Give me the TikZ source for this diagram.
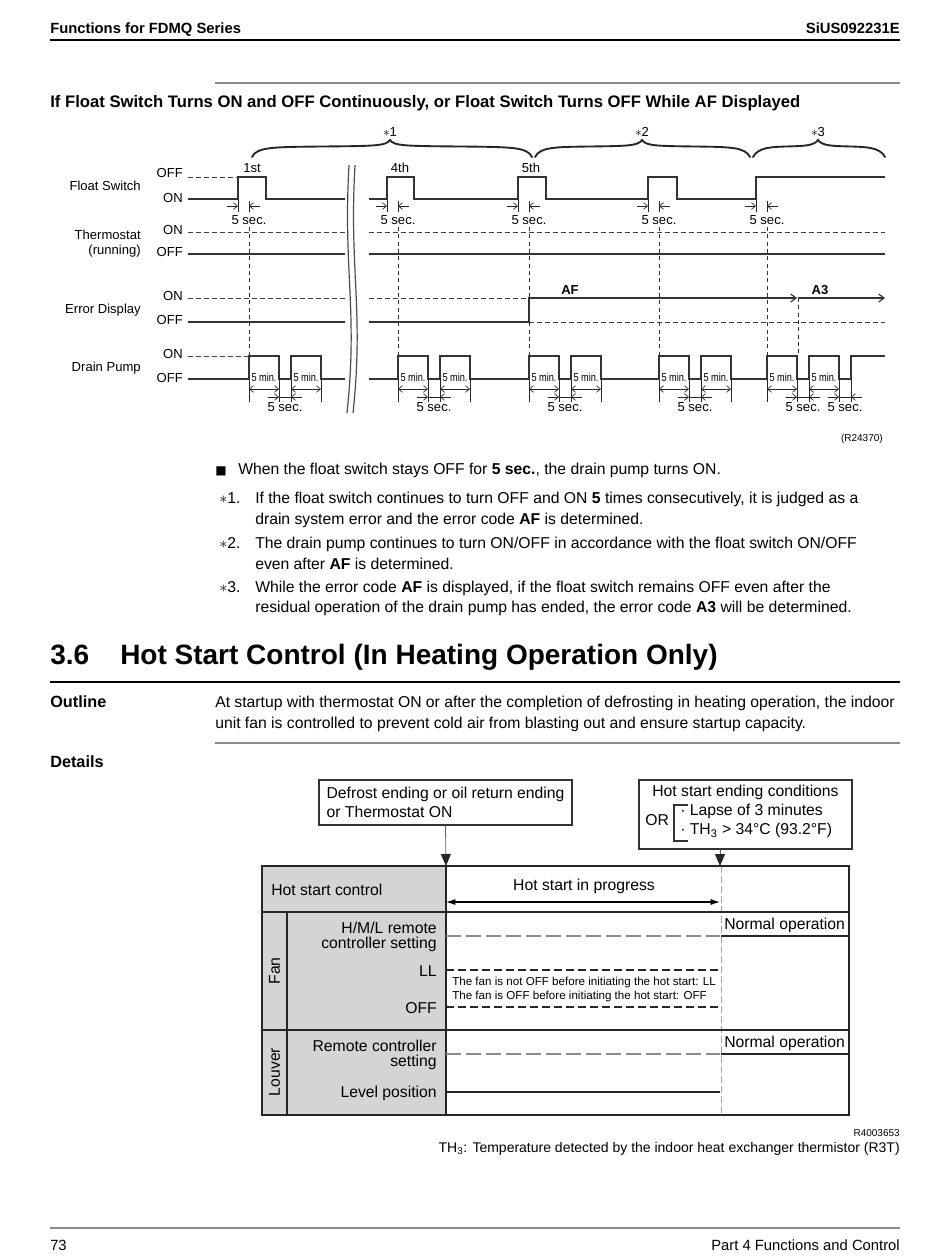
\documentclass[tikz,border=0pt]{standalone}
\usepackage{fontspec}
\setmainfont{Liberation Sans}
\newfontfamily\narrowfont[FakeStretch=0.8]{Liberation Sans}
\newfontfamily\symfont{DejaVu Sans}
\usetikzlibrary{arrows.meta, positioning, calc}

\begin{document}
\begin{tikzpicture}[
        x=0.75pt, y=-0.75pt,
        body/.style={anchor=west, inner sep=0pt, text height=8.5pt, text depth=0pt, font=\fontsize{11.8}{14.2}\selectfont},
        bodyb/.style={body, font=\fontsize{12.2}{14.6}\selectfont\bfseries},
        hdr/.style={inner sep=0pt, text height=8pt, text depth=0pt, font=\fontsize{11.1}{13}\selectfont\bfseries},
        sig/.style={anchor=east, inner sep=0pt, text height=7pt, text depth=0pt, font=\fontsize{9.8}{11.25}\selectfont},
        tinytxt/.style={inner sep=0pt, text height=5.4pt, text depth=0pt, font=\fontsize{7.5}{9}\selectfont},
        minlbl/.style={inner sep=0pt, text height=6pt, text depth=0pt, font=\narrowfont\fontsize{8.6}{9}\selectfont},
        wave/.style={line width=0.9pt, black!80},
        lvl/.style={line width=0.7pt, black!75, dash pattern=on 3.5pt off 2.5pt},
        vdash/.style={line width=0.6pt, black!80, dash pattern=on 3pt off 2.5pt},
        mk/.style={line width=0.5pt, black!85},
        into/.style={mk, -{Straight Barb[length=3pt, width=5pt]}},
        span/.style={mk, {Straight Barb[length=3pt, width=5pt]}-{Straight Barb[length=3pt, width=5pt]}},
        brc/.style={line width=1.4pt, black!85, line cap=round},
        hs/.style={inner sep=0pt, font=\fontsize{11.8}{14.3}\selectfont},
        hstwo/.style={hs, anchor=east, align=right, font=\fontsize{11.8}{11.6}\selectfont},
        hsbox/.style={draw=black!80, line width=0.8pt, fill=white},
        tblline/.style={line width=1.5pt, black!85},
        hsarrow/.style={line width=0.6pt, black!60, -{Triangle[length=9pt, width=7.5pt, black!85]}},
        greydash/.style={line width=0.8pt, black!45, dash pattern=on 11pt off 4pt},
        blkdash/.style={line width=1pt, black!85, dash pattern=on 6pt off 3pt}
    ]
        \fill[white] (0,0) rectangle (950,1258);
        \useasboundingbox (0,0) rectangle (950,1258);

        % Page header
        \node[hdr, anchor=west] (hdrleft) at (50,28) {Functions for FDMQ Series};
        \node[hdr, anchor=east] (hdrright) at (900,28) {SiUS092231E};
        \draw[line width=0.9pt] (50,40) -- (900,40);
        \draw[black!45, line width=0.9pt] (215,83) -- (900,83);
        \node[bodyb, font=\fontsize{12.5}{15}\selectfont\bfseries] (title) at (50,102) {If Float Switch Turns ON and OFF Continuously, or Float Switch Turns OFF While AF Displayed};

        % Braces
        \foreach \l/\m/\r in {252/390/532, 535/642/750, 753/818/885} {
            \draw[brc] (\l,157) .. controls (\l+5,147) and (\l+20,147) .. ({(\l+\m)/2},146.5)
                .. controls (\m-15,146) and (\m-4,146) .. (\m,140)
                .. controls (\m+4,146) and (\m+15,146) .. ({(\m+\r)/2},146.5)
                .. controls (\r-20,147) and (\r-5,147) .. (\r,157);
        }
        \node[sig, anchor=center] (starA) at (390,132) {$\ast$1};
        \node[sig, anchor=center] (starB) at (642,132) {$\ast$2};
        \node[sig, anchor=center] (starC) at (818,132) {$\ast$3};

        % Signal names
        \node[sig] (fsw) at (141,186) {Float Switch};
        \node[anchor=east, inner sep=0pt, align=right, font=\fontsize{9.8}{11.25}\selectfont] (thermo) at (141,244) {Thermostat\\(running)};
        \node[sig] (errd) at (141,309) {Error Display};
        \node[sig] (pump) at (141,367) {Drain Pump};
        \node[sig] (fswoff) at (183,173) {OFF};
        \node[sig] (fswon) at (183,198) {ON};
        \node[sig] (thon) at (183,230) {ON};
        \node[sig] (thoff) at (183,252) {OFF};
        \node[sig] (erron) at (183,296) {ON};
        \node[sig] (erroff) at (183,320) {OFF};
        \node[sig] (pmpon) at (183,354) {ON};
        \node[sig] (pmpoff) at (183,378) {OFF};

        % Break
        \draw[line width=0.9pt, black!70] (349,165) .. controls (343,270) and (358,310) .. (347,413);
        \draw[line width=0.9pt, black!70] (355,165) .. controls (349,270) and (364,310) .. (353,413);

        % Float switch
        \draw[lvl] (188,177) -- (238,177);
        \draw[wave] (188,199) -- (238,199) -- (238,177) -- (266,177) -- (266,199) -- (345,199);
        \draw[wave] (369,199) -- (387,199) -- (387,177) -- (414,177) -- (414,199) -- (518,199) -- (518,177) -- (546,177) -- (546,199)
            -- (648,199) -- (648,177) -- (677,177) -- (677,199) -- (756,199) -- (756,177) -- (885,177);
        \node[sig, anchor=center] (first) at (252,168) {1st};
        \node[sig, anchor=center] (fourth) at (400,168) {4th};
        \node[sig, anchor=center] (fifth) at (531,168) {5th};

        % Thermostat
        \draw[lvl] (188,232) -- (345,232) (369,232) -- (885,232);
        \draw[wave] (188,254) -- (345,254) (369,254) -- (885,254);

        % Error display
        \draw[lvl] (188,298) -- (345,298) (369,298) -- (529,298);
        \draw[wave] (188,322) -- (345,322) (369,322) -- (529,322);
        \draw[lvl] (529,322) -- (885,322);
        \draw[wave, -{Straight Barb[length=4pt, width=6pt]}] (529,322) -- (529,298) -- (797,298);
        \draw[wave, -{Straight Barb[length=4pt, width=6pt]}] (798,298) -- (885,298);
        \draw[vdash] (798,298) -- (798,356);
        \node[sig, anchor=center, font=\fontsize{9.8}{11}\selectfont\bfseries] (af) at (570,290) {AF};
        \node[sig, anchor=center, font=\fontsize{9.8}{11}\selectfont\bfseries] (athree) at (820,290) {A3};

        % Drain pump
        \draw[lvl] (188,356) -- (249,356);
        \draw[wave] (188,379) -- (249,379) -- (249,356) -- (279,356) -- (279,379) -- (291,379) -- (291,356) -- (321,356) -- (321,379) -- (345,379);
        \draw[wave] (369,379) -- (398,379) -- (398,356) -- (428,356) -- (428,379) -- (440,379) -- (440,356) -- (470,356) -- (470,379)
            -- (529,379) -- (529,356) -- (559,356) -- (559,379) -- (571,379) -- (571,356) -- (601,356) -- (601,379)
            -- (659,379) -- (659,356) -- (689,356) -- (689,379) -- (701,379) -- (701,356) -- (731,356) -- (731,379)
            -- (767,379) -- (767,356) -- (797,356) -- (797,379) -- (809,379) -- (809,356) -- (839,356) -- (839,379)
            -- (851,379) -- (851,356) -- (885,356);

        % 5 sec. after each float switch OFF
        \foreach \r in {238,387,518,648,756} {
            \draw[mk] (\r,199) -- (\r,212) (\r+11,201) -- (\r+11,212);
            \draw[into] (\r-11,206) -- (\r,206);
            \draw[into] (\r+22,206) -- (\r+11,206);
            \node[sig, anchor=center] (fsec\r) at (\r+11,220) {5 sec.};
            \draw[vdash] (\r+11,227) -- (\r+11,356);
        }

        % 5 min. / 5 sec. under the drain pump
        \foreach \a in {249,398,529,659,767} {
            \draw[mk] (\a,379) -- (\a,402) (\a+30,379) -- (\a+30,402) (\a+42,379) -- (\a+42,402) (\a+72,379) -- (\a+72,402);
            \node[minlbl] (mina\a) at (\a+15,377) {5 min.};
            \node[minlbl] (minb\a) at (\a+57,377) {5 min.};
            \draw[span] (\a,389) -- (\a+30,389);
            \draw[span] (\a+42,389) -- (\a+72,389);
            \draw[into] (\a+19,397) -- (\a+30,397);
            \draw[into] (\a+53,397) -- (\a+42,397);
            \draw[mk] (\a+30,397) -- (\a+42,397);
            \node[sig, anchor=center] (psec\a) at (\a+36,407) {5 sec.};
        }
        \draw[mk] (851,379) -- (851,402);
        \draw[into] (828,397) -- (839,397);
        \draw[into] (862,397) -- (851,397);
        \draw[mk] (839,397) -- (851,397);
        \node[sig, anchor=center] (psecend) at (845,407) {5 sec.};

        \node[tinytxt, anchor=east] (fig1) at (883,438) {(R24370)};

        % Notes
        \node[body, anchor=center, font=\symfont\fontsize{9}{10}\selectfont] (sq) at (221,469) {■};
        \node[body] (noteA) at (238,469) {When the float switch stays OFF for \textbf{5 sec.}, the drain pump turns ON.};
        \node[body] (starnA) at (219,498) {$\ast$1.};
        \node[body] (noteB) at (255,498) {If the float switch continues to turn OFF and ON \textbf{5} times consecutively, it is judged as a};
        \node[body] (noteBb) at (255,519) {drain system error and the error code \textbf{AF} is determined.};
        \node[body] (starnB) at (219,543) {$\ast$2.};
        \node[body] (noteC) at (255,543) {The drain pump continues to turn ON/OFF in accordance with the float switch ON/OFF};
        \node[body] (noteCb) at (255,564) {even after \textbf{AF} is determined.};
        \node[body] (starnC) at (219,587) {$\ast$3.};
        \node[body] (noteD) at (255,587) {While the error code \textbf{AF} is displayed, if the float switch remains OFF even after the};
        \node[body] (noteDb) at (255,607) {residual operation of the drain pump has ended, the error code \textbf{A3} will be determined.};

        % Section 3.6
        \node[body, text height=15pt, font=\fontsize{21}{25}\selectfont\bfseries] (secnum) at (50,654) {3.6};
        \node[body, text height=15pt, font=\fontsize{21}{25}\selectfont\bfseries] (sectitle) at (120,654) {Hot Start Control (In Heating Operation Only)};
        \draw[line width=1pt] (50,682) -- (900,682);
        \node[bodyb] (outline) at (50,702) {Outline};
        \node[body] (outA) at (215,702) {At startup with thermostat ON or after the completion of defrosting in heating operation, the indoor};
        \node[body] (outB) at (215,723) {unit fan is controlled to prevent cold air from blasting out and ensure startup capacity.};
        \draw[black!45, line width=0.9pt] (215,743) -- (900,743);
        \node[bodyb] (details) at (50,762) {Details};

        % Hot start chart: boxes
        \node[hsbox, hs, minimum width=189.75pt, minimum height=33.75pt, align=left] (trigger) at (445.5,802.5)
            {Defrost ending or oil return ending\\or Thermostat ON};
        \node[hsbox, minimum width=159.75pt, minimum height=51.75pt] (endcond) at (745.5,814.5) {};
        \node[hs, text height=8.5pt, text depth=0pt] (endtitle) at (745.5,791) {Hot start ending conditions};
        \node[hs, anchor=west, text height=8.5pt, text depth=0pt] (ortxt) at (645,820) {OR};
        \draw[line width=0.8pt, black!80] (688,805) -- (674,805) -- (674,841) -- (688,841);
        \node[hs, anchor=west, text height=8.5pt, text depth=0pt] (lapse) at (680,810) {· Lapse of 3 minutes};
        \node[hs, anchor=west, text height=8.5pt, text depth=0pt] (thcond) at (680,829) {· TH\textsubscript{3} > 34°C (93.2°F)};

        % Hot start chart: table
        \fill[black!17] (262,866) rectangle (446,1115);
        \draw[line width=0.7pt, black!35, dash pattern=on 5pt off 2.5pt] (721,866) -- (721,1115);
        \draw[tblline] (446,866) -- (446,1115) (262,912) -- (849,912) (262,1030) -- (849,1030);
        \draw[line width=1pt, black!85] (287,912) -- (287,1115);
        \draw[tblline] (262,866) rectangle (849,1115);
        \draw[line width=1pt, black!85] (721,936) -- (849,936) (721,1054) -- (849,1054);

        \coordinate (startpt) at (446,866);
        \coordinate (endpt) at (720,866);
        \draw[hsarrow] (trigger.south) -- (startpt);
        \draw[hsarrow] (endcond.south -| endpt) -- (endpt);

        \node[hs, anchor=west] (hsctl) at (271,890) {Hot start control};
        \node[hs] (inprog) at (584,886) {Hot start in progress};
        \coordinate (progA) at (446,902);
        \coordinate (progB) at (720,902);
        \draw[line width=0.8pt, {Latex[length=7pt, width=4.5pt]}-{Latex[length=7pt, width=4.5pt]}] (progA) -- (progB);

        % Fan
        \node[hs, rotate=90] (fan) at (274.5,971) {Fan};
        \node[hstwo] (hml) at (437,937) {H/M/L remote\\controller setting};
        \draw[greydash] (446,936) -- (720,936);
        \node[hs, anchor=west, text height=8.5pt, text depth=0pt] (normA) at (724,924) {Normal operation};
        \node[hs, anchor=east, text height=8.5pt, text depth=0pt] (ll) at (437,971) {LL};
        \draw[blkdash] (446,970) -- (720,970);
        \node[inner sep=0pt, anchor=west, align=left, font=\fontsize{8.7}{10.5}\selectfont] (fannote) at (452,989)
            {The fan is not OFF before initiating the hot start: LL\\The fan is OFF before initiating the hot start: OFF};
        \node[hs, anchor=east, text height=8.5pt, text depth=0pt] (fanoff) at (437,1008) {OFF};
        \draw[blkdash] (446,1007) -- (720,1007);

        % Louver
        \node[hs, rotate=90] (louver) at (274.5,1072) {Louver};
        \node[hstwo] (rcs) at (437,1055) {Remote controller\\setting};
        \draw[greydash] (446,1054) -- (720,1054);
        \node[hs, anchor=west, text height=8.5pt, text depth=0pt] (normB) at (724,1042) {Normal operation};
        \node[hs, anchor=east, text height=8.5pt, text depth=0pt] (level) at (437,1092) {Level position};
        \draw[line width=1pt, black!85] (446,1092) -- (720,1092);

        \node[tinytxt, anchor=east] (fig2) at (900,1133) {R4003653};
        \node[inner sep=0pt, anchor=east, text height=7.6pt, text depth=0pt, font=\fontsize{10.5}{12}\selectfont] (thnote) at (900,1147)
            {TH\textsubscript{3}: Temperature detected by the indoor heat exchanger thermistor (R3T)};

        % Page footer
        \draw[black!45, line width=0.9pt] (50,1228) -- (900,1228);
        \node[body, font=\fontsize{11.1}{13}\selectfont] (pageno) at (50,1245) {73};
        \node[body, anchor=east, font=\fontsize{11.1}{13}\selectfont] (part) at (900,1245) {Part 4 Functions and Control};
    \end{tikzpicture}
\end{document}
